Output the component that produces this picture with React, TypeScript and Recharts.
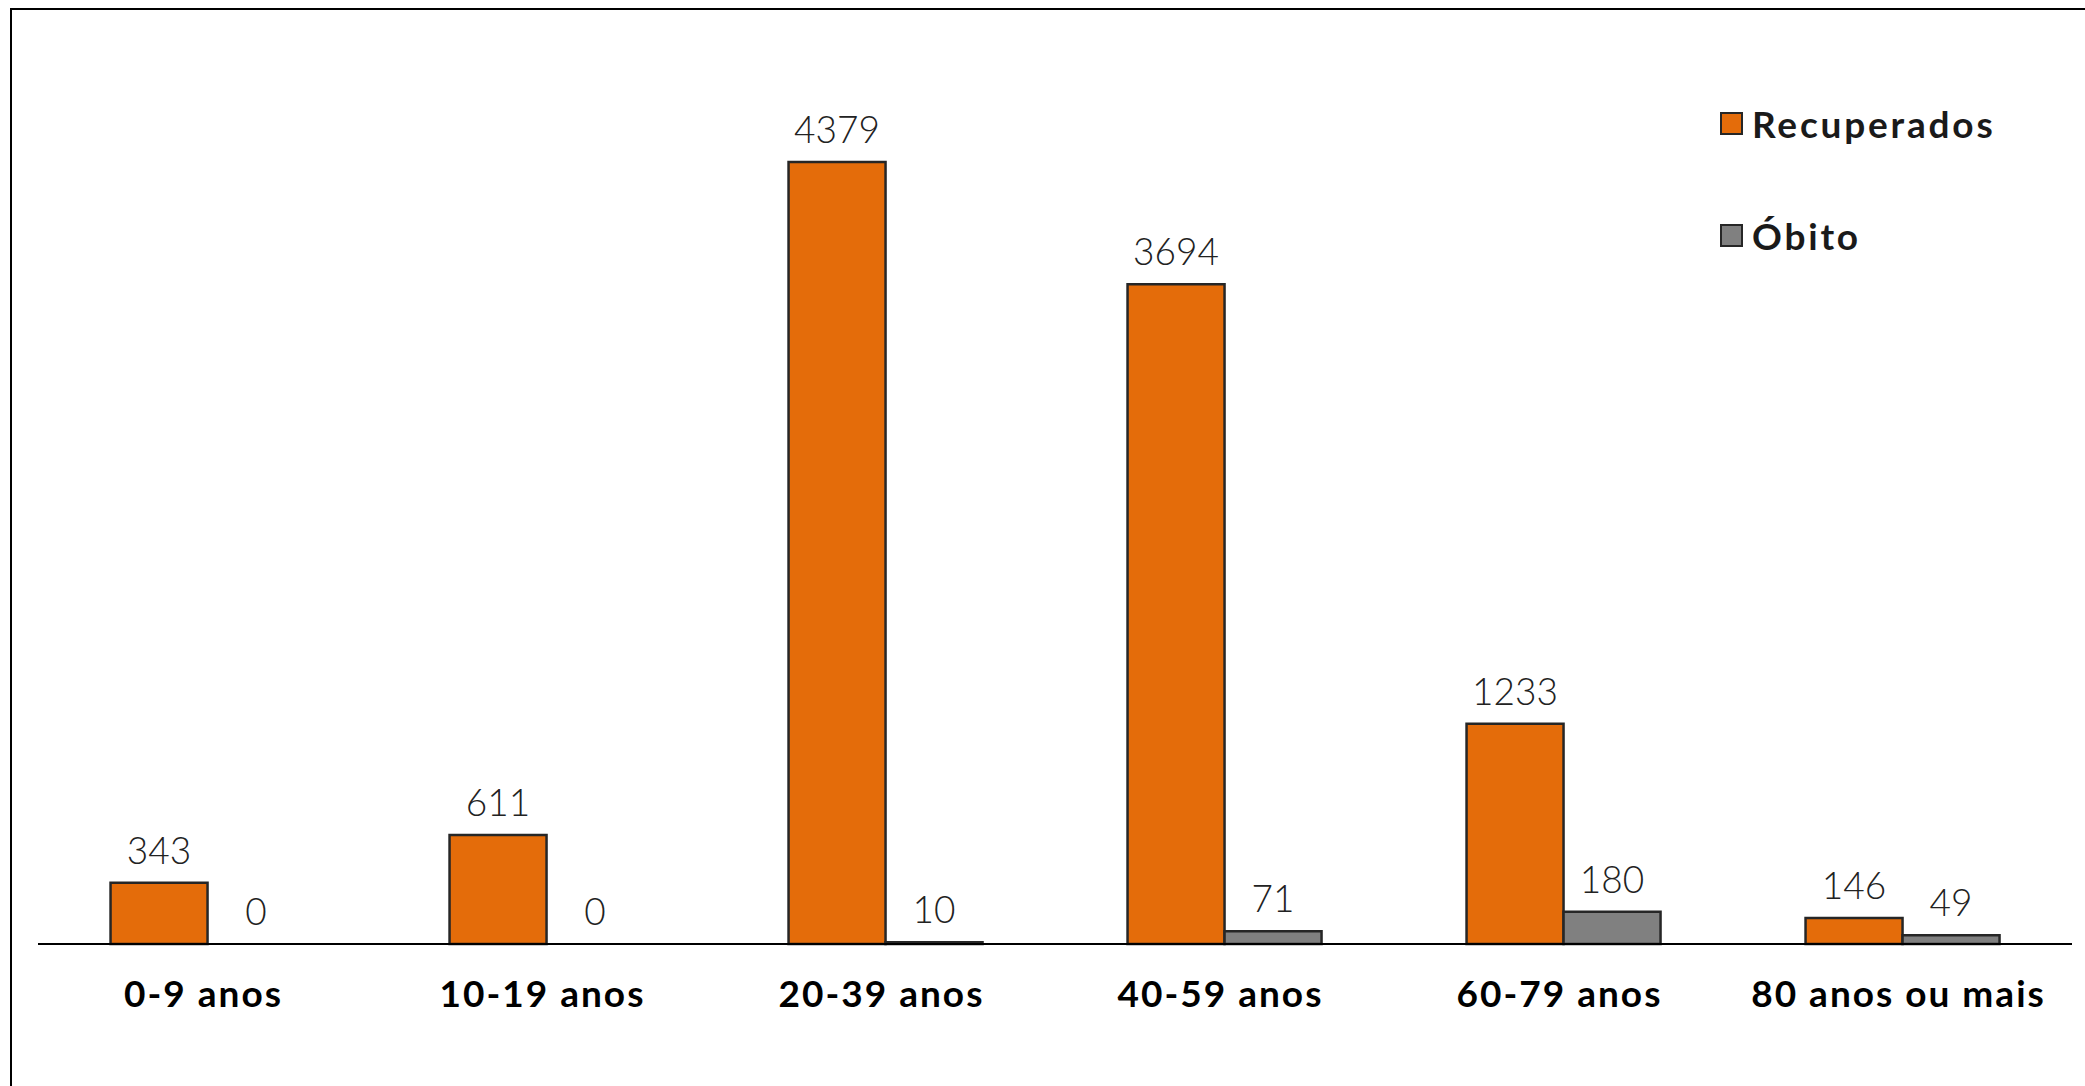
import React from "react";
import { BarChart, Bar, XAxis, YAxis, LabelList, Legend, Cell } from "recharts";

const categories = ["0-9 anos", "10-19 anos", "20-39 anos", "40-59 anos", "60-79 anos", "80 anos ou mais"];
const recuperados = [343, 611, 4379, 3694, 1233, 146];
const obito = [0, 0, 10, 71, 180, 49];

const data = categories.map((c, i) => ({ name: c, Recuperados: recuperados[i], Óbito: obito[i] }));

const ORANGE = "#E46C0A";
const GRAY = "#808080";
const EDGE = "#262626";
const LABEL_FONT = "Lato, 'Open Sans', sans-serif";
const BOLD_FONT = "Lato, 'Open Sans', sans-serif";

const CatTick = (props: any) => {
  const { x, y, payload } = props;
  return (
    <text x={x} y={y} dx={-4} dy={55} textAnchor="middle" fontFamily={BOLD_FONT} fontWeight={700} fontSize={37} fill="#000" letterSpacing={2}>
      {payload.value}
    </text>
  );
};

const LegendContent = (props: any) => {
  const { payload } = props;
  return (
    <div style={{ display: "flex", flexDirection: "column" }}>
      {(payload || []).map((p: any, i: number) => (
        <div key={i} style={{ display: "flex", alignItems: "center", height: 112 }}>
          <div style={{ width: 19, height: 19, background: p.color, border: `2px solid ${EDGE}`, marginRight: 9 }} />
          <span style={{ fontFamily: BOLD_FONT, fontWeight: 700, fontSize: 37, color: "#1a1a1a", letterSpacing: 2.8 }}>{p.value}</span>
        </div>
      ))}
    </div>
  );
};

const zeroMin = (v: any) => (v === 0 ? 0.001 : 0);

export default function App() {
  return (
    <div style={{ position: "fixed", left: 0, top: 0, width: 2085, height: 1086, overflow: "hidden", background: "#fff" }}>
      <div style={{ position: "absolute", left: 10, top: 8, width: 2075, height: 2, background: "#000" }} />
      <div style={{ position: "absolute", left: 10, top: 8, width: 2, height: 1078, background: "#000" }} />
      <div style={{ position: "absolute", left: 0, top: 0 }}>
        <BarChart
          width={2085}
          height={1086}
          data={data}
          margin={{ top: 51, right: 13, bottom: 0, left: 38 }}
          barCategoryGap="21.4%"
          barGap={0}
        >
          <YAxis hide domain={[0, 5000]} />
          <XAxis
            dataKey="name"
            height={142}
            axisLine={{ stroke: "#000", strokeWidth: 2 }}
            tickLine={false}
            tick={<CatTick />}
            interval={0}
          />
          <Legend
            layout="vertical"
            verticalAlign="middle"
            align="center"
            content={<LegendContent />}
            wrapperStyle={{ position: "absolute", left: 1720, top: 67, width: 360, height: 230 }}
          />
          <Bar dataKey="Recuperados" fill={ORANGE} stroke={EDGE} strokeWidth={2.5} isAnimationActive={false}>
            <LabelList dataKey="Recuperados" position="top" offset={19} fontFamily={LABEL_FONT} fontWeight={300} fontSize={37} fill="#222" />
          </Bar>
          <Bar dataKey="Óbito" fill={GRAY} stroke={EDGE} strokeWidth={2.5} minPointSize={zeroMin} isAnimationActive={false}>
            {obito.map((v, i) => (
              <Cell key={i} stroke={v === 0 ? "none" : EDGE} fill={v === 0 ? "none" : GRAY} />
            ))}
            <LabelList dataKey="Óbito" position="top" offset={19} fontFamily={LABEL_FONT} fontWeight={300} fontSize={37} fill="#222" />
          </Bar>
        </BarChart>
      </div>
    </div>
  );
}
